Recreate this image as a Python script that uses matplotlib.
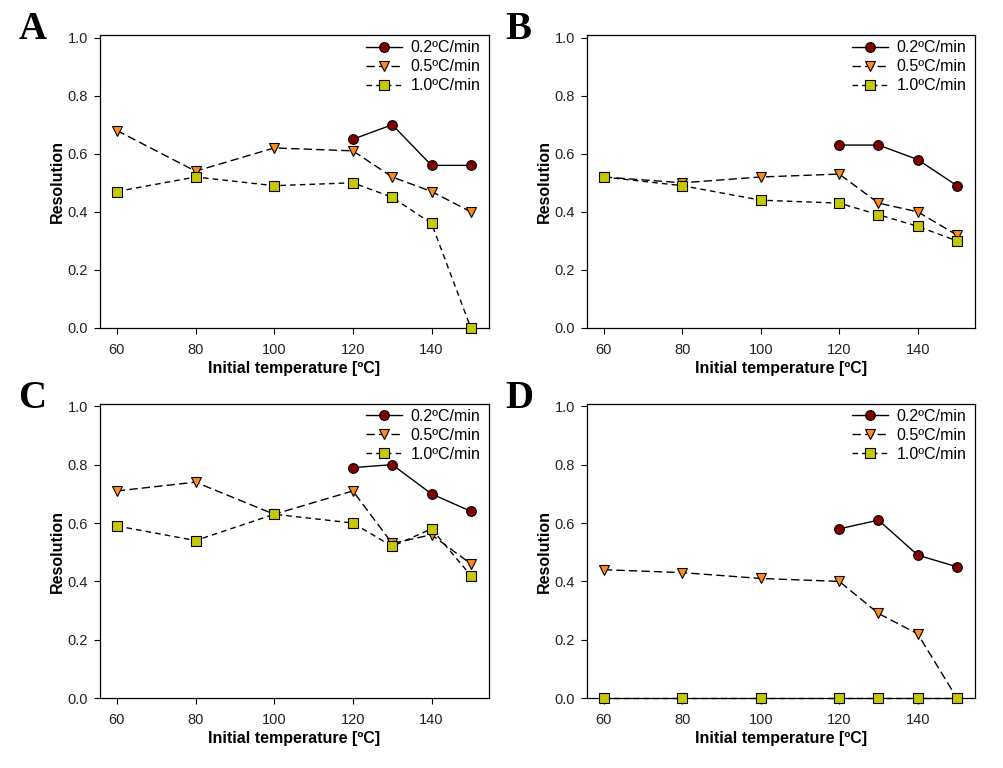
import numpy as np
import matplotlib
matplotlib.use("Agg")
import matplotlib.pyplot as plt

plt.rcParams["font.family"] = ["Liberation Sans", "DejaVu Sans"]

temps = [60, 80, 100, 120, 130, 140, 150]
temps_slow = [120, 130, 140, 150]
series_labels = ["0.2ºC/min", "0.5ºC/min", "1.0ºC/min"]
panel_letters = ["A", "B", "C", "D"]

# resolution values
a_02 = [0.65, 0.70, 0.56, 0.56]
a_05 = [0.68, 0.54, 0.62, 0.61, 0.52, 0.47, 0.40]
a_10 = [0.47, 0.52, 0.49, 0.50, 0.45, 0.36, 0.00]

b_02 = [0.63, 0.63, 0.58, 0.49]
b_05 = [0.52, 0.50, 0.52, 0.53, 0.43, 0.40, 0.32]
b_10 = [0.52, 0.49, 0.44, 0.43, 0.39, 0.35, 0.30]

c_02 = [0.79, 0.80, 0.70, 0.64]
c_05 = [0.71, 0.74, 0.63, 0.71, 0.53, 0.56, 0.46]
c_10 = [0.59, 0.54, 0.63, 0.60, 0.52, 0.58, 0.42]

d_02 = [0.58, 0.61, 0.49, 0.45]
d_05 = [0.44, 0.43, 0.41, 0.40, 0.29, 0.22, 0.00]
d_10 = [0.00, 0.00, 0.00, 0.00, 0.00, 0.00, 0.00]

panels = [(a_02, a_05, a_10), (b_02, b_05, b_10), (c_02, c_05, c_10), (d_02, d_05, d_10)]

# axes boxes in figure fractions [left, bottom, width, height]
boxes = [
    [0.0996, 0.573, 0.3874, 0.381],
    [0.5847, 0.573, 0.3864, 0.381],
    [0.0996, 0.091, 0.3874, 0.383],
    [0.5847, 0.091, 0.3864, 0.383],
]

fig = plt.figure(figsize=(10.04, 7.68), dpi=100)

for i, (s02, s05, s10) in enumerate(panels):
    ax = fig.add_axes(boxes[i])
    ax.plot(temps_slow, s02, color="black", lw=1.0, ls="-", marker="o",
            ms=7, mfc="#800000", mec="black", mew=0.8, label=series_labels[0], zorder=3)
    ax.plot(temps, s05, color="black", lw=1.0, ls=(0, (6, 3)), marker="v",
            ms=7.5, mfc="#FF8C1A", mec="black", mew=0.8, label=series_labels[1], zorder=3)
    ax.plot(temps, s10, color="black", lw=1.0, ls=(0, (4, 3)), marker="s",
            ms=6.5, mfc="#C8C800", mec="black", mew=0.8, label=series_labels[2], zorder=3,
            clip_on=False)

    ax.set_xlim(55.7, 154.6)
    ax.set_ylim(0, 1.008)
    ax.set_xticks([60, 80, 100, 120, 140])
    ax.set_yticks(np.arange(0, 1.01, 0.2))
    ax.set_yticklabels([f"{v:.1f}" for v in np.arange(0, 1.01, 0.2)])
    ax.tick_params(direction="out", length=4, width=0.8, labelsize=10.5,
                   colors="black", labelcolor="#222222")
    ax.tick_params(axis="x", pad=6.5)
    ax.tick_params(axis="y", pad=4.5)
    for sp in ax.spines.values():
        sp.set_linewidth(0.9)

    ax.set_xlabel("Initial temperature [ºC]", fontsize=11.5, fontweight="bold", labelpad=3)
    ax.set_ylabel("Resolution", fontsize=11.5, fontweight="bold", labelpad=2)

    ax.legend(loc="upper right", bbox_to_anchor=(0.99, 1.0), frameon=False,
              fontsize=11.5, handlelength=2.3, handletextpad=0.5, labelspacing=0.25,
              borderaxespad=0.1, borderpad=0.2)

    ax.text(-0.21, 1.02, panel_letters[i], transform=ax.transAxes,
            fontsize=28, fontweight="bold", family="Liberation Serif",
            ha="left", va="center")

fig.savefig("out.png", dpi=100)
